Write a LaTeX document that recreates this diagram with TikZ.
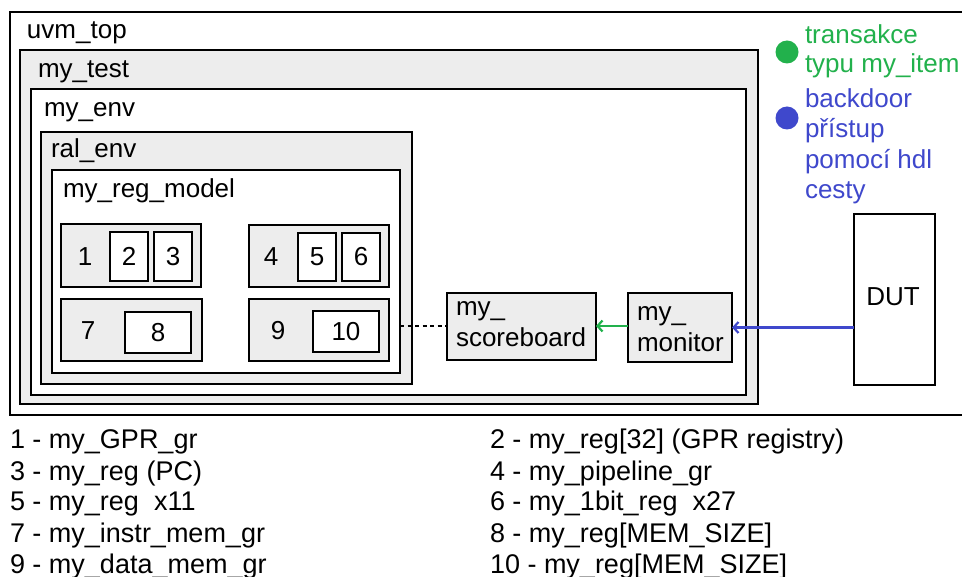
\documentclass[tikz,border=0pt]{standalone}
\usepackage{fontspec}
\setmainfont{Liberation Sans}
\usetikzlibrary{arrows.meta}
\definecolor{panel}{HTML}{EDEDED}
\definecolor{itemgreen}{HTML}{22B14C}
\definecolor{hdlblue}{HTML}{3F48CC}
\begin{document}
\begin{tikzpicture}[x=1pt,y=-1pt,
  every node/.style={font=\fontsize{26}{30}\selectfont, inner sep=0pt, outer sep=0pt},
  frame/.style={draw=black, line width=2.8pt, rectangle},
  grayframe/.style={frame, fill=panel},
  whiteframe/.style={frame, fill=white},
  lbl/.style={anchor=base west},
  keytext/.style={anchor=base west, font=\fontsize{27}{30}\selectfont},
  tip/.style={-{Straight Barb[length=5pt,width=11pt,line width=2.2pt]}, line width=2.4pt}
]
\clip (0,0) rectangle (962,577);
\fill[white] (0,0) rectangle (962,577);

% nested containers
\draw[frame] (10,12) rectangle (975,415);
\node[lbl] (tuvm) at (27,39) {uvm\_top};
\draw[grayframe] (20,50) rectangle (758,404);
\node[lbl] (ttest) at (38,78) {my\_test};
\draw[whiteframe] (31,89) rectangle (746,395);
\node[lbl] (tenv) at (44,117) {my\_env};
\draw[grayframe] (41,132) rectangle (412,384);
\node[lbl] (tral) at (51,158) {ral\_env};
\draw[whiteframe] (52,170) rectangle (400,373);
\coordinate (regmodelE) at (400,326);
\node[lbl] (tmodel) at (63,198) {my\_reg\_model};

% register groups and registers
\draw[grayframe] (61,224) rectangle (201,287);
\node (n1) at (85,257) {1};
\node[whiteframe, minimum width=38pt, minimum height=49pt] (b2) at (129,256.5) {2};
\node[whiteframe, minimum width=38pt, minimum height=49pt] (b3) at (173,256.5) {3};

\draw[grayframe] (249,225) rectangle (389,287);
\node (n4) at (271,257) {4};
\node[whiteframe, minimum width=38pt, minimum height=48pt] (b5) at (317,257) {5};
\node[whiteframe, minimum width=38pt, minimum height=48pt] (b6) at (361,257) {6};

\draw[grayframe] (61,299) rectangle (202,361);
\node (n7) at (88,331) {7};
\node[whiteframe, minimum width=66pt, minimum height=41pt] (b8) at (158,332.5) {8};

\draw[grayframe] (249,299) rectangle (389,361);
\node (n9) at (278,331) {9};
\node[whiteframe, minimum width=66pt, minimum height=41pt] (b10) at (346,331.5) {10};

% scoreboard, monitor, DUT
\node[grayframe, minimum width=149pt, minimum height=67pt] (sb) at (521.5,326.5) {};
\node[lbl] (tsb1) at (456,316) {my\_};
\node[lbl] (tsb2) at (456,347) {scoreboard};
\node[grayframe, minimum width=104pt, minimum height=69pt] (mon) at (680,327.5) {};
\node[lbl] (tmon1) at (637,321) {my\_};
\node[lbl] (tmon2) at (637,352) {monitor};
\node[whiteframe, minimum width=81pt, minimum height=171pt] (dut) at (894.5,299.5) {};
\node (tdut) at (893,297) {DUT};

% connections
\draw[line width=2.6pt, dash pattern=on 4pt off 3.5pt] (regmodelE) -- (regmodelE -| sb.west);
\draw[tip, itemgreen] ([yshift=1.5pt]mon.west) -- ([yshift=1.5pt]mon.west -| sb.east);
\draw[tip, hdlblue] (mon.east -| dut.west) -- (mon.east);

% legend
\fill[itemgreen] (787,52) circle (11.5);
\node[lbl, text=itemgreen] (lg1) at (805,44) {transakce};
\node[lbl, text=itemgreen] (lg2) at (805,73) {typu my\_item};
\fill[hdlblue] (787,118) circle (11.5);
\node[lbl, text=hdlblue] (lb1) at (805,108) {backdoor};
\node[lbl, text=hdlblue] (lb2) at (805,138) {přístup};
\node[lbl, text=hdlblue] (lb3) at (805,169) {pomocí hdl};
\node[lbl, text=hdlblue] (lb4) at (805,199) {cesty};

% numbered key
\node[keytext] (k1) at (10,449) {1 - my\_GPR\_gr};
\node[keytext] (k3) at (10,480) {3 - my\_reg (PC)};
\node[keytext] (k5) at (10,511) {5 - my\_reg\ \ x11};
\node[keytext] (k7) at (10,542) {7 - my\_instr\_mem\_gr};
\node[keytext] (k9) at (10,573) {9 - my\_data\_mem\_gr};
\node[keytext] (k2) at (490,449) {2 - my\_reg[32] (GPR registry)};
\node[keytext] (k4) at (490,480) {4 - my\_pipeline\_gr};
\node[keytext] (k6) at (490,511) {6 - my\_1bit\_reg\ \ x27};
\node[keytext] (k8) at (490,542) {8 - my\_reg[MEM\_SIZE]};
\node[keytext] (k10) at (490,573) {10 - my\_reg[MEM\_SIZE]};
\end{tikzpicture}
\end{document}
